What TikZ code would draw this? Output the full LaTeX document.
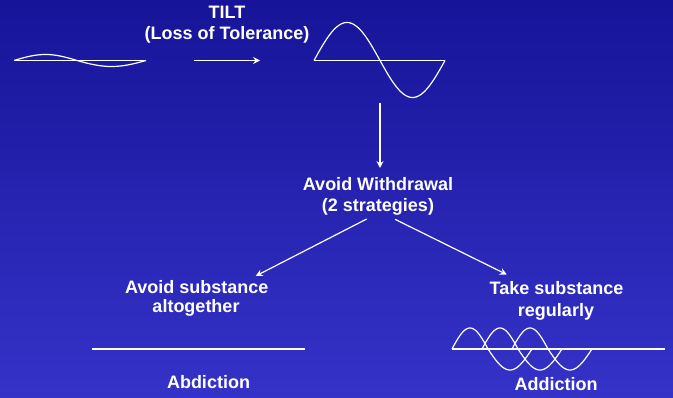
\documentclass[tikz,border=0pt]{standalone}
\usepackage{fontspec}
\setmainfont{Liberation Sans}
\usetikzlibrary{arrows.meta}
\definecolor{bgtop}{RGB}{22,20,152}
\definecolor{bgbot}{RGB}{53,51,200}
\begin{document}
\begin{tikzpicture}[x=1pt,y=-1pt,
  lbl/.style={text=white,font=\fontsize{18}{21}\selectfont\bfseries,inner sep=0pt,anchor=base},
  wline/.style={white,line width=1.4pt},
  curve/.style={white,line width=1.2pt},
  arr/.style={white,line width=1.2pt,-{Stealth[length=7pt,width=7pt,inset=2.5pt]}}]
  % background
  \shade[top color=bgtop,bottom color=bgbot] (0,0) rectangle (673,398);
  \useasboundingbox (0,0) rectangle (673,398);

  % labels
  \node[lbl] (tilt)   at (227,19)    {TILT};
  \node[lbl] (loss)   at (227,40)    {(Loss of Tolerance)};
  \node[lbl] (avoidw) at (378,190.7) {Avoid Withdrawal};
  \node[lbl] (strat)  at (378,211.7) {(2 strategies)};
  \node[lbl] (avoids) at (196.7,293.3) {Avoid substance};
  \node[lbl] (altog)  at (196,312.3) {altogether};
  \node[lbl] (takes)  at (556.5,295) {Take substance};
  \node[lbl] (regul)  at (556,316.7) {regularly};
  \node[lbl] (abd)    at (208.5,389) {Abdiction};
  \node[lbl] (add)    at (556,390.7) {Addiction};

  % arrow end points
  \coordinate (t0) at (194,60.5);
  \coordinate (t1) at (260,60.5);
  \coordinate (v0) at (380,103);
  \coordinate (v1) at (380,168);
  \coordinate (l0) at (366.7,219);
  \coordinate (l1) at (255.7,276);
  \coordinate (r0) at (395,219.3);
  \coordinate (r1) at (506.7,274.5);

  \draw[arr] (t0) -- (t1);
  \draw[arr] (v0) -- (v1);
  \draw[arr] (l0) -- (l1);
  \draw[arr] (r0) -- (r1);

  % small wave (tolerant state)
  \draw[wline] (14,60.5) -- (146,60.5);
  \draw[curve] plot[domain=0:180,samples=40] ({14+63*\x/180},{60.5-6*sin(\x)})
               -- plot[domain=0:180,samples=40] ({77+69*\x/180},{60.5+6*sin(\x)});

  % large wave (after loss of tolerance)
  \draw[wline] (314,60.5) -- (445,60.5);
  \draw[curve] plot[domain=0:180,samples=50] ({314+66*\x/180},{60.5-38*sin(\x)})
               -- plot[domain=0:180,samples=50] ({380+65*\x/180},{60.5+37*sin(\x)});

  % flat line: substance avoided
  \draw[wline] (92,349) -- (305,349);

  % repeated waves: substance taken regularly
  \draw[wline] (452,349) -- (665,349);
  \foreach \s in {452,482,512}{
    \draw[curve] plot[domain=0:180,samples=40] ({\s+36*\x/180},{349-21*sin(\x)})
                 -- plot[domain=0:180,samples=40] ({\s+36+44*\x/180},{349+21*sin(\x)});
  }
\end{tikzpicture}
\end{document}
